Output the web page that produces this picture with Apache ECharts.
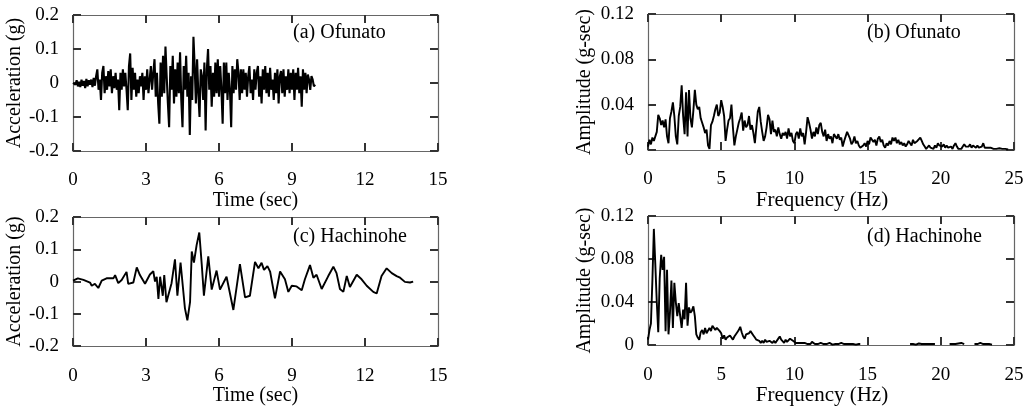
<!DOCTYPE html>
<html>
<head>
<meta charset="utf-8">
<script src="https://cdn.jsdelivr.net/npm/echarts@6/dist/echarts.min.js"></script>
<style>
  html, body { margin: 0; padding: 0; background: #fff; }
  #chart { width: 1027px; height: 407px; }
</style>
</head>
<body>
<div id="chart"></div>
<script>
// ---- Ground motion records ----

// (a) Ofunato acceleration (g), sampled every 0.05 s from t = 0
const ofunatoDt = 0.05;
const ofunatoAcc = [
  0, 0.005, -0.005, 0.008, -0.01, 0.004, -0.012, 0.01, -0.008, 0.006, -0.015, 0.012, -0.01, 0.008, -0.005, 0.01, -0.012, 0.015, -0.008, 0.02,
  0.04, -0.02, 0.01, -0.05, 0.03, 0.05, -0.03, 0.02, -0.02, 0.035, -0.01, 0.04, -0.03, 0.02, -0.015, 0.03, -0.02, 0.01, -0.08, 0.03,
  -0.02, 0.04, -0.01, 0.03, -0.02, -0.08, 0.05, 0.087, -0.05, 0.045, -0.02, 0.03, -0.04, 0.01, -0.03, 0.02, -0.01, 0.03, -0.05, 0.02,
  -0.02, 0.04, -0.03, 0.01, 0.05, -0.02, 0.03, 0.07, -0.04, 0.03, -0.06, -0.12, 0.06, -0.04, 0.08, -0.03, 0.107, 0.02, -0.06, -0.13,
  0.05, -0.02, 0.08, -0.06, 0.04, -0.04, 0.06, -0.03, 0.09, -0.05, -0.13, 0.05, -0.02, 0.08, -0.04, 0.03, -0.153, 0.02, -0.05, 0.136,
  0.05, -0.06, 0.07, -0.03, -0.1, 0.04, 0.02, -0.05, 0.06, -0.14, 0.04, 0.1, -0.02, 0.05, -0.07, 0.03, -0.04, 0.06, -0.03, 0.07,
  -0.04, 0.05, -0.02, -0.12, 0.06, -0.03, 0.06, -0.05, 0.03, -0.02, -0.13, 0.05, -0.03, 0.04, -0.02, 0.07, 0.03, -0.05, 0.04, -0.03,
  0.04, -0.02, 0.03, -0.04, 0.02, 0.05, -0.03, 0.01, -0.05, 0.04, -0.02, 0.03, 0.05, -0.04, 0.02, -0.06, 0.04, -0.02, 0.05, -0.03,
  0.03, -0.04, 0.045, -0.02, 0.01, -0.05, 0.03, -0.03, 0.04, -0.06, 0.02, 0.035, -0.03, 0.04, -0.04, 0.02, -0.02, 0.04, -0.03, 0.03,
  -0.02, 0.04, -0.05, 0.03, -0.02, 0.045, -0.03, 0.02, -0.07, 0.04, -0.02, 0.03, -0.03, 0.025, 0.01, -0.02, 0.02, 0.01, -0.01, -0.005
];

// (b) Ofunato Fourier amplitude (g-sec), every 0.1 Hz from 0 Hz
const ofunatoDf = 0.1;
const ofunatoAmp = [
  0.003, 0.009, 0.005, 0.011, 0.008, 0.012, 0.016, 0.031, 0.028, 0.022,
  0.026, 0.02, 0.027, 0.012, 0.006, 0.028, 0.034, 0.042, 0.03, 0.012,
  0.005, 0.03, 0.038, 0.057, 0.03, 0.014, 0.051, 0.012, 0.053, 0.028,
  0.02, 0.035, 0.053, 0.04, 0.036, 0.038, 0.028, 0.024, 0.02, 0.015,
  0.018, 0.004, 0.001, 0.022, 0.025, 0.03, 0.036, 0.04, 0.03, 0.033,
  0.044, 0.038, 0.03, 0.008, 0.018, 0.026, 0.028, 0.04, 0.02, 0.004,
  0.012, 0.018, 0.024, 0.028, 0.033, 0.017, 0.026, 0.02, 0.022, 0.03,
  0.018, 0.022, 0.015, 0.006, 0.02, 0.034, 0.038, 0.025, 0.016, 0.008,
  0.012, 0.02, 0.031, 0.027, 0.014, 0.026, 0.016, 0.018, 0.012, 0.02,
  0.014, 0.01, 0.015, 0.013, 0.016, 0.01, 0.019, 0.012, 0.015, 0.008,
  0.006, 0.014, 0.016, 0.01, 0.019, 0.012, 0.015, 0.005, 0.016, 0.029,
  0.024, 0.018, 0.01, 0.016, 0.012, 0.02, 0.014, 0.022, 0.024, 0.016,
  0.012, 0.018, 0.008, 0.014, 0.01, 0.012, 0.006, 0.014, 0.012, 0.01,
  0.014, 0.009, 0.011, 0.003, 0.008, 0.012, 0.016, 0.015, 0.01, 0.005,
  0.007, 0.012, 0.006, 0.008, 0.004, 0.002, 0.001, 0.004, 0.006, 0.003,
  0.008, 0.005, 0.011, 0.012, 0.007, 0.009, 0.004, 0.01, 0.012, 0.007,
  0.009, 0.004, 0.002, 0.006, 0.004, 0.008, 0.005, 0.011, 0.008, 0.011,
  0.006, 0.009, 0.005, 0.007, 0.004, 0.006, 0.003, 0.005, 0.008, 0.006,
  0.004, 0.009, 0.006, 0.005, 0.008, 0.009, 0.011, 0.008, 0.005, 0.003,
  0.001, 0.002, 0.004, 0.002, 0.003, 0.001, 0.004, 0.002, 0.006, 0.004,
  0.005, 0.003, 0.005, 0.002, 0.004, 0.002, 0.001, 0.003, 0.001, 0.004,
  0.006, 0.003, 0.001, 0.002, 0.001, 0.003, 0.005, 0.003, 0.004, 0.003,
  0.005, 0.002, 0.004, 0.003, 0.002, 0.004, 0.002, 0.001, 0.003, 0.006,
  0.002, 0.001, 0.002, 0.001, 0.002, 0.003, 0.001, 0.002, 0.001, 0.001,
  0.0015, 0.001, 0.001, 0.0005, 0.001, 0.0005, 0.0005
];

// (c) Hachinohe acceleration: time (sec) and acceleration (g)
const hachinoheTime = [
  0.0, 0.2, 0.43, 0.7, 0.77, 0.9, 1.04, 1.18, 1.38, 1.66, 1.73, 1.86, 2.0, 2.2, 2.27, 2.48, 2.62, 2.75, 2.96,
  3.16, 3.3, 3.37, 3.44, 3.51, 3.58, 3.69, 3.75, 3.84, 4.05, 4.19, 4.29, 4.42, 4.6, 4.7, 4.81, 4.88, 4.97,
  5.08, 5.19, 5.29, 5.38, 5.56, 5.7, 5.9, 6.04, 6.31, 6.59, 6.86, 7.07, 7.27, 7.48, 7.62, 7.75, 7.85, 7.99,
  8.1, 8.3, 8.51, 8.58, 8.71, 8.85, 8.99, 9.19, 9.4, 9.53, 9.74, 9.88, 10.01, 10.22, 10.49, 10.7, 10.83,
  10.97, 11.11, 11.25, 11.38, 11.66, 11.86, 12.07, 12.34, 12.48, 12.68, 12.89, 13.1, 13.3, 13.44, 13.64,
  13.85, 13.98
];
const hachinoheAcc = [
  0.003, 0.01, 0.005, -0.003, -0.013, -0.007, -0.02, 0.003, 0.01, 0.01, 0.02, -0.005, 0.005, 0.03, -0.007, -0.003, 0.044, 0.02, -0.007,
  0.022, 0.032, 0, 0.015, -0.054, 0.015, -0.044, 0.02, -0.064, -0.005, 0.069, -0.044, 0.059, -0.083, -0.12, -0.064, 0.093, 0.059,
  0.113, 0.152, 0.054, -0.044, 0.078, -0.025, 0.034, -0.025, 0.015, -0.088, 0.054, -0.049, -0.044, 0.061, 0.041, 0.058, 0.036, 0.048,
  0.031, -0.052, 0.031, 0.036, 0.007, -0.032, -0.013, -0.015, -0.027, 0.007, 0.051, 0.012, 0.021, -0.023, 0.017, 0.046, 0.026,
  -0.023, -0.032, 0.017, -0.017, 0.021, 0.007, -0.013, -0.032, -0.037, 0.017, 0.041, 0.026, 0.017, 0.012, -0.001,
  -0.003, 0
];

// (d) Hachinohe Fourier amplitude (g-sec), every 0.1 Hz from 0 Hz; null where nothing is plotted
const hachinoheDf = 0.1;
const hachinoheAmp = [
  0.005, 0.014, 0.02, 0.06, 0.108, 0.075, 0.04, 0.012, 0.062, 0.084,
  0.07, 0.082, 0.013, 0.07, 0.01, 0.03, 0.06, 0.016, 0.058, 0.04,
  0.027, 0.039, 0.027, 0.016, 0.033, 0.024, 0.058, 0.018, 0.035, 0.03,
  0.032, 0.036, 0.027, 0.01, 0.007, 0.005, 0.012, 0.014, 0.01, 0.016,
  0.011, 0.01, 0.016, 0.013, 0.018, 0.017, 0.014, 0.016, 0.017, 0.013,
  0.011, 0.006, 0.009, 0.005, 0.007, 0.006, 0.009, 0.01, 0.005, 0.008,
  0.009, 0.012, 0.014, 0.017, 0.012, 0.008, 0.006, 0.01, 0.009, 0.011,
  0.013, 0.012, 0.009, 0.007, 0.005, 0.006, 0.004, 0.002, 0.004, 0.002,
  0.005, 0.003, 0.002, 0.004, 0.003, 0.002, 0.004, 0.002, 0.003, 0.006,
  0.008, 0.005, 0.004, 0.002, 0.005, 0.003, 0.004, 0.006, 0.007, 0.004,
  0.003, 0.002, 0.001, 0.002, 0.001, 0.002, 0.001, 0.002, 0.003, 0.001,
  0.002, 0.001, 0.003, 0.002, 0.001, 0.002, 0.001, 0.001, 0.002, 0.001,
  0.001, 0.0015, 0.001, 0.001, 0.002, 0.001, 0.0005, 0.001, 0.001, 0.0015,
  0.001, 0.001, 0.002, 0.001, 0.001, 0.0015, 0.001, 0.001, 0.001, 0.0005,
  0.001, 0.001, 0.0005, 0.001, 0.001, 0.001,
  null, null, null, null, null, null, null, null, null, null, null,
  null, null, null, null, null, null, null, null, null, null, null,
  null, null, null, null, null, null, null, null, null, null, null,
  0.001, 0.0005, 0.001, 0.001, 0.0005, 0.001, 0.0015, 0.001, 0.001, 0.0015,
  0.001, 0.002, 0.001, 0.0015, 0.001, 0.002, 0.001, 0.001,
  null, null, null, null, null, null, null, null, null,
  0.001, 0.0015, 0.001, 0.002, 0.001, 0.001, 0.0015, 0.001, 0.002, 0.001, 0.001,
  null, null, null, null, null, null,
  0.001, 0.0015, 0.001, 0.001, 0.002, 0.001, 0.001, 0.0015, 0.001, 0.002, 0.001, 0.001, 0.0005
];

// Panel captions and axis titles
const panelLabels = ['(a) Ofunato', '(b) Ofunato', '(c) Hachinohe', '(d) Hachinohe'];
const timeTitle = 'Time (sec)';
const freqTitle = 'Frequency (Hz)';
const accTitle = 'Acceleration (g)';
const ampTitle = 'Amplitude (g-sec)';

// ---- Helpers ----
const FONT = '"Liberation Serif", "Times New Roman", serif';
const FRAME = '#666';

// fresh tick settings for every axis (inward ticks on all four sides of each frame)
function tickStyle() {
  return { show: true, inside: true, length: 8, lineStyle: { color: '#333', width: 2 } };
}

function sampled(values, step) {
  return values.map((v, i) => [+(i * step).toFixed(3), v]);
}
function paired(xs, ys) {
  return xs.map((x, i) => [x, ys[i]]);
}

function xAxisPair(grid, max, interval, name, nameSize, namePadding) {
  const make = (extra) => Object.assign({
    type: 'value', gridIndex: grid, min: 0, max: max, interval: interval,
    splitLine: { show: false },
    axisLine: { show: true, onZero: false, lineStyle: { color: FRAME, width: 1.2 } },
    axisTick: tickStyle()
  }, extra);
  return [
    make({
      position: 'bottom',
      axisLabel: { color: '#000', fontFamily: FONT, fontSize: 19, margin: 20 },
      name: name, nameLocation: 'middle', nameGap: 26,
      nameTextStyle: { color: '#000', fontFamily: FONT, fontSize: nameSize, padding: namePadding }
    }),
    make({ position: 'top', axisLabel: { show: false } })
  ];
}

function yAxisPair(grid, min, max, interval, name, gap) {
  const make = (extra) => Object.assign({
    type: 'value', gridIndex: grid, min: min, max: max, interval: interval,
    splitLine: { show: false },
    axisLine: { show: true, onZero: false, lineStyle: { color: FRAME, width: 1.2 } },
    axisTick: tickStyle()
  }, extra);
  return [
    make({
      position: 'left',
      axisLabel: { color: '#000', fontFamily: FONT, fontSize: 19, margin: 14,
        formatter: v => String(+v.toFixed(2)) },
      name: name, nameLocation: 'middle', nameGap: gap,
      nameTextStyle: { color: '#000', fontFamily: FONT, fontSize: 20 }
    }),
    make({ position: 'right', axisLabel: { show: false } })
  ];
}

function trace(axisIndex, data, width) {
  return {
    type: 'line', xAxisIndex: axisIndex, yAxisIndex: axisIndex, data: data,
    showSymbol: false, symbol: 'none', connectNulls: false, silent: true,
    lineStyle: { color: '#000', width: width }
  };
}

const grids = [
  { left: 73, top: 15, width: 365, height: 136 },
  { left: 648, top: 14, width: 366, height: 136 },
  { left: 73, top: 217, width: 365, height: 136 },
  { left: 648, top: 216, width: 366, height: 137 }
];

const xAxes = [].concat(
  xAxisPair(0, 15, 3, timeTitle, 20, 0),
  xAxisPair(1, 25, 5, freqTitle, 21, [0, 18, 0, 0]),
  xAxisPair(2, 15, 3, timeTitle, 20, 0),
  xAxisPair(3, 25, 5, freqTitle, 21, [0, 18, 0, 0])
);
const yAxes = [].concat(
  yAxisPair(0, -0.2, 0.2, 0.1, accTitle, 46),
  yAxisPair(1, 0, 0.12, 0.04, ampTitle, 53),
  yAxisPair(2, -0.2, 0.2, 0.1, accTitle, 46),
  yAxisPair(3, 0, 0.12, 0.04, ampTitle, 53)
);

const captionPos = [[293, 23], [867, 23], [293, 227], [867, 227]];
const titles = panelLabels.map((t, i) => ({
  text: t, left: captionPos[i][0], top: captionPos[i][1], padding: 0,
  textStyle: { fontFamily: FONT, fontSize: 20, fontWeight: 'normal', color: '#000' }
}));

const chart = echarts.init(document.getElementById('chart'), null, { renderer: 'canvas' });
chart.setOption({
  animation: false,
  backgroundColor: '#fff',
  title: titles,
  grid: grids,
  xAxis: xAxes,
  yAxis: yAxes,
  series: [
    trace(0, sampled(ofunatoAcc, ofunatoDt), 2.1),
    trace(2, sampled(ofunatoAmp, ofunatoDf), 1.9),
    trace(4, paired(hachinoheTime, hachinoheAcc), 1.9),
    trace(6, sampled(hachinoheAmp, hachinoheDf), 1.9)
  ]
});
</script>
</body>
</html>
